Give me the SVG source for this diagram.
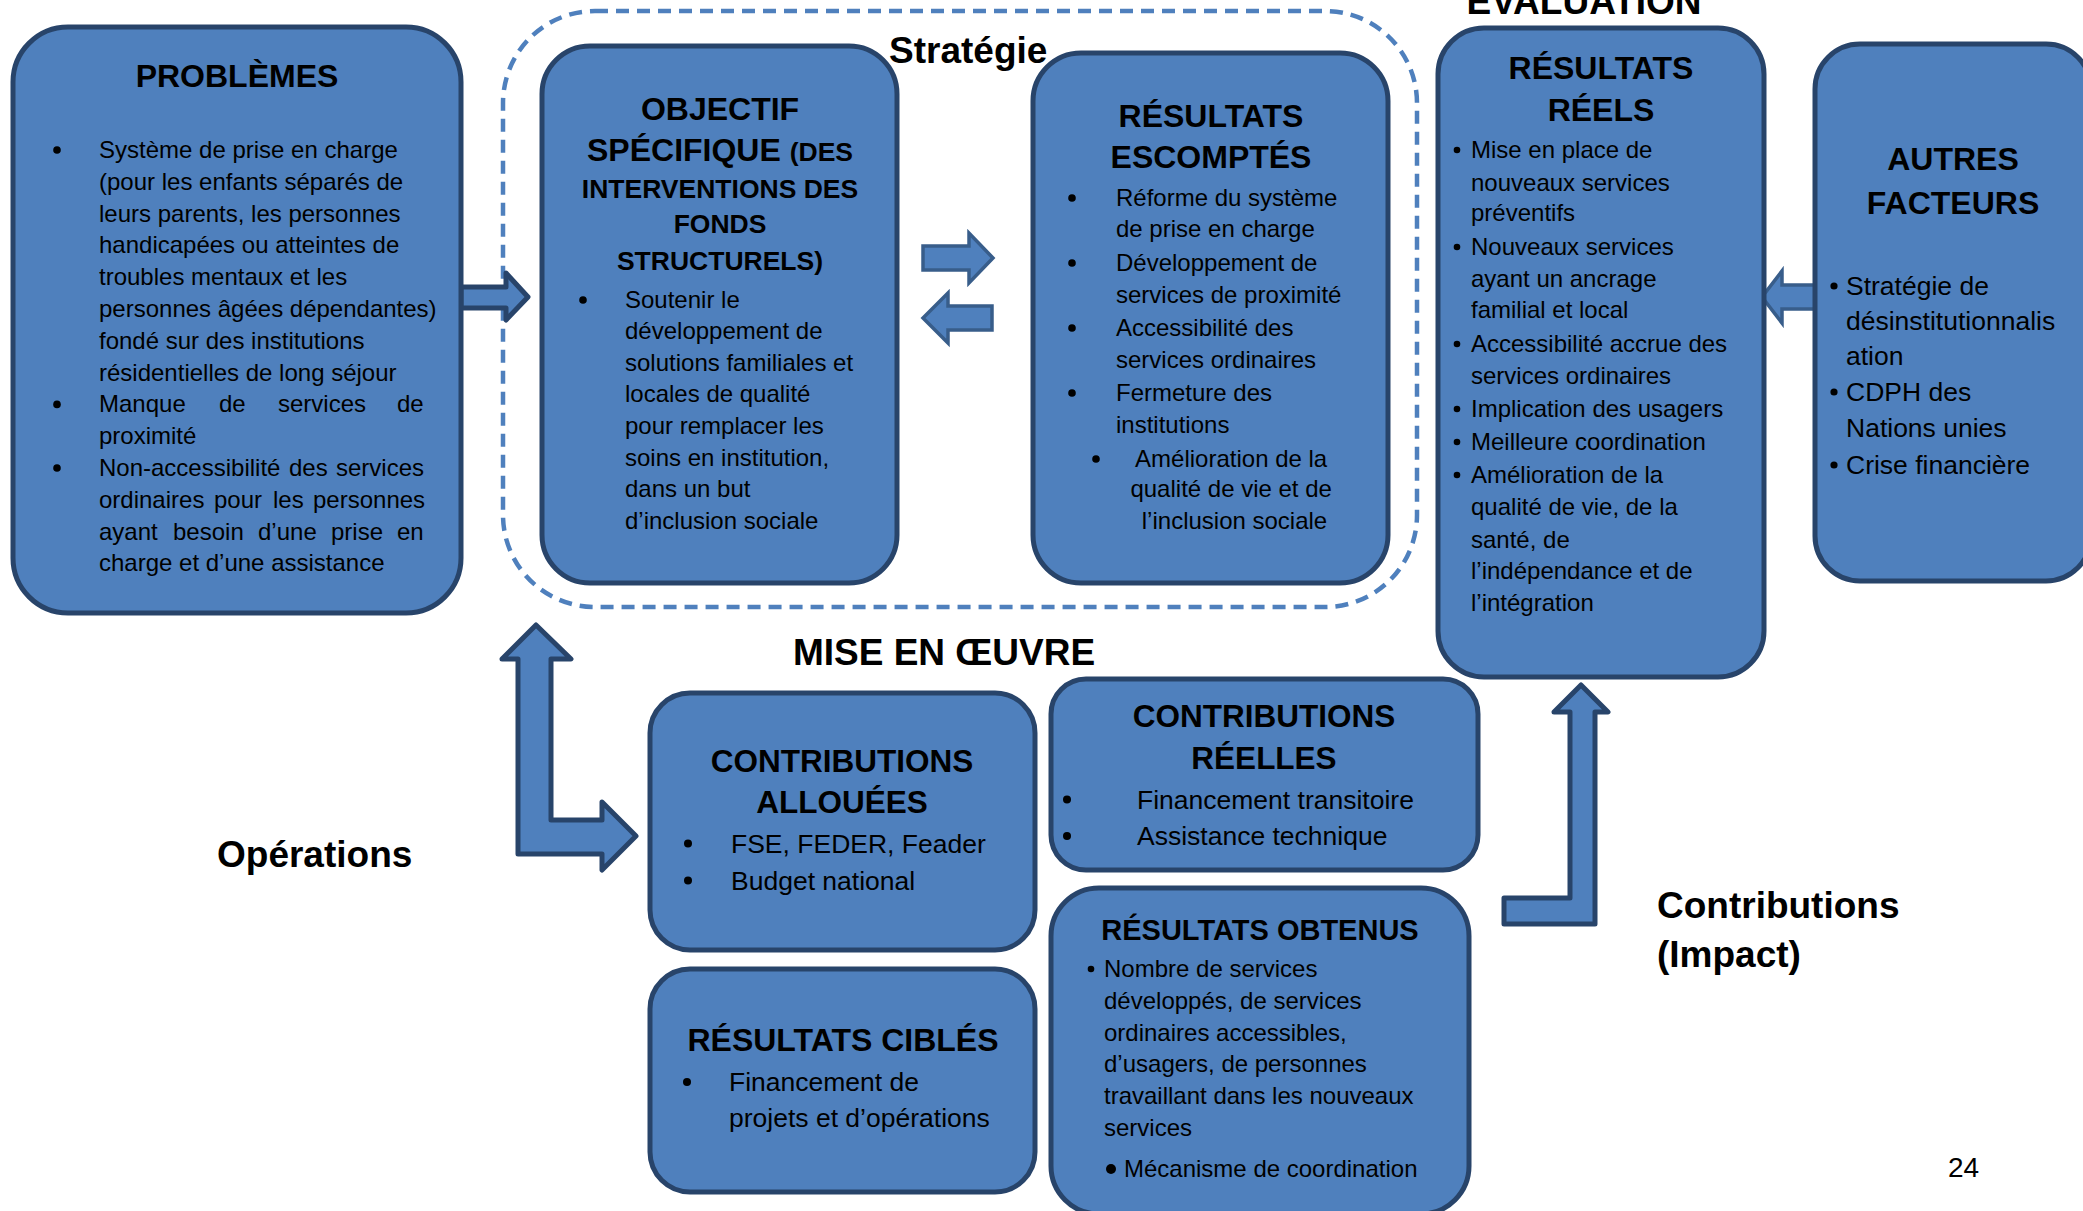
<svg xmlns="http://www.w3.org/2000/svg" width="2083" height="1211" viewBox="0 0 2083 1211">
<style>
.box{fill:#4f80bd;stroke:#28446a;stroke-width:5}
.arr{fill:#4f80bd;stroke:#385d8a;stroke-width:3.5;stroke-linejoin:miter}
.arrd{fill:#4f80bd;stroke:#28446a;stroke-width:5;stroke-linejoin:round}
.dash{fill:none;stroke:#4f80bd;stroke-width:4.5;stroke-dasharray:13 8}
text{font-family:"Liberation Sans",Arial,sans-serif;fill:#000}
.h{font-weight:bold;font-size:32px;text-anchor:middle}
.h26{font-weight:bold;font-size:26.5px;text-anchor:middle}
.h31{font-weight:bold;font-size:31.5px;text-anchor:middle}
.h29{font-weight:bold;font-size:29px;text-anchor:middle}
.sec{font-weight:bold;font-size:37px}
.b24{font-size:24px}
.b26{font-size:26.5px}
.dot{fill:#000}
</style>
<rect width="2083" height="1211" fill="#fff"/>

<g id="strategie-frame">
<rect class="dash" x="503" y="11" width="914" height="596" rx="92"/>
</g>

<g id="connectors">
<path class="arrd" d="M461,287 H506 V273 L528,297 L506,320 V308 H461 Z"/>
<path class="arr" d="M923,246 H969 V233 L993,258 L969,283 V270 H923 Z"/>
<path class="arr" d="M992,306 H948 V293 L923,318 L948,343 V330 H992 Z"/>
<path class="arr" d="M1817,285 H1782 V271 L1762,297 L1782,323 V309 H1817 Z"/>
<path class="arrd" d="M536,625 L571,659 L551,659 L551,820 L602,820 L602,802 L636,836 L602,870 L602,854 L518,854 L518,659 L502,659 Z"/>
<path class="arrd" d="M1581,685 L1608,712 L1595,712 L1595,924 L1504,924 L1504,898 L1570,898 L1570,712 L1554,712 Z"/>
</g>

<g id="problemes">
<rect class="box" x="13" y="27" width="448" height="586" rx="55"/>
<text class="h" x="237" y="87">PROBLÈMES</text>
<circle class="dot" cx="57" cy="150" r="3.8"/>
<circle class="dot" cx="57" cy="404.4" r="3.8"/>
<circle class="dot" cx="57" cy="468" r="3.8"/>
<text class="b24">
<tspan x="99" y="158">Système de prise en charge</tspan>
<tspan x="99" y="189.8">(pour les enfants séparés de</tspan>
<tspan x="99" y="221.6">leurs parents, les personnes</tspan>
<tspan x="99" y="253.4">handicapées ou atteintes de</tspan>
<tspan x="99" y="285.2">troubles mentaux et les</tspan>
<tspan x="99" y="317">personnes âgées dépendantes)</tspan>
<tspan x="99" y="348.8">fondé sur des institutions</tspan>
<tspan x="99" y="380.6">résidentielles de long séjour</tspan>
</text>
<text class="b24" y="412.4"><tspan x="99">Manque</tspan><tspan x="219">de</tspan><tspan x="278">services</tspan><tspan x="397">de</tspan></text>
<text class="b24" x="99" y="444.2">proximité</text>
<text class="b24" y="476"><tspan x="99">Non-accessibilité</tspan><tspan x="289">des</tspan><tspan x="336">services</tspan></text>
<text class="b24" y="507.8"><tspan x="99">ordinaires</tspan><tspan x="214">pour</tspan><tspan x="273">les</tspan><tspan x="313">personnes</tspan></text>
<text class="b24" y="539.6"><tspan x="99">ayant</tspan><tspan x="173">besoin</tspan><tspan x="258">d’une</tspan><tspan x="331">prise</tspan><tspan x="397">en</tspan></text>
<text class="b24" x="99" y="571.4">charge et d’une assistance</text>
</g>

<g id="objectif">
<rect class="box" x="542" y="46" width="355" height="537" rx="48"/>
<text class="h" x="720" y="120">OBJECTIF</text>
<text class="h" x="720" y="161">SPÉCIFIQUE <tspan font-size="26.5">(DES</tspan></text>
<text class="h26" x="720" y="198">INTERVENTIONS DES</text>
<text class="h26" x="720" y="233">FONDS</text>
<text class="h26" x="720" y="270">STRUCTURELS)</text>
<circle class="dot" cx="583" cy="300" r="3.8"/>
<text class="b24">
<tspan x="625" y="307.6">Soutenir le</tspan>
<tspan x="625" y="339.2">développement de</tspan>
<tspan x="625" y="370.8">solutions familiales et</tspan>
<tspan x="625" y="402.4">locales de qualité</tspan>
<tspan x="625" y="434">pour remplacer les</tspan>
<tspan x="625" y="465.6">soins en institution,</tspan>
<tspan x="625" y="497.2">dans un but</tspan>
<tspan x="625" y="528.8">d’inclusion sociale</tspan>
</text>
</g>

<g id="resultats-escomptes">
<rect class="box" x="1033" y="53" width="355" height="530" rx="48"/>
<text class="h" x="1211" y="127">RÉSULTATS</text>
<text class="h" x="1211" y="168">ESCOMPTÉS</text>
<circle class="dot" cx="1072" cy="198" r="3.8"/>
<circle class="dot" cx="1072" cy="263" r="3.8"/>
<circle class="dot" cx="1072" cy="328" r="3.8"/>
<circle class="dot" cx="1072" cy="393" r="3.8"/>
<circle class="dot" cx="1096" cy="459" r="3.8"/>
<text class="b24">
<tspan x="1116" y="205.6">Réforme du système</tspan>
<tspan x="1116" y="237">de prise en charge</tspan>
<tspan x="1116" y="271">Développement de</tspan>
<tspan x="1116" y="302.5">services de proximité</tspan>
<tspan x="1116" y="336">Accessibilité des</tspan>
<tspan x="1116" y="368">services ordinaires</tspan>
<tspan x="1116" y="401">Fermeture des</tspan>
<tspan x="1116" y="433">institutions</tspan>
</text>
<text class="b24" text-anchor="middle">
<tspan x="1234.5" y="466.6">Amélioration de la</tspan>
<tspan x="1234.5" y="497">qualité de vie et de</tspan>
<tspan x="1234.5" y="528.7">l’inclusion sociale</tspan>
</text>
</g>

<g id="labels">
<text class="sec" x="889" y="63">Stratégie</text>
<text class="sec" x="1584" y="14" text-anchor="middle">ÉVALUATION</text>
<text class="sec" x="944" y="665" text-anchor="middle">MISE EN ŒUVRE</text>
<text class="sec" x="217" y="867">Opérations</text>
<text class="sec" x="1657" y="918">Contributions</text>
<text class="sec" x="1657" y="967">(Impact)</text>
<text x="1948" y="1177" font-size="28">24</text>
</g>

<g id="resultats-reels">
<rect class="box" x="1438" y="28" width="326" height="649" rx="46"/>
<text class="h" x="1601" y="79">RÉSULTATS</text>
<text class="h" x="1601" y="121">RÉELS</text>
<circle class="dot" cx="1457" cy="150" r="3.3"/>
<circle class="dot" cx="1457" cy="247" r="3.3"/>
<circle class="dot" cx="1457" cy="344" r="3.3"/>
<circle class="dot" cx="1457" cy="409" r="3.3"/>
<circle class="dot" cx="1457" cy="442" r="3.3"/>
<circle class="dot" cx="1457" cy="475" r="3.3"/>
<text class="b24">
<tspan x="1471" y="158">Mise en place de</tspan>
<tspan x="1471" y="190.6">nouveaux services</tspan>
<tspan x="1471" y="221">préventifs</tspan>
<tspan x="1471" y="255">Nouveaux services</tspan>
<tspan x="1471" y="286.7">ayant un ancrage</tspan>
<tspan x="1471" y="318">familial et local</tspan>
<tspan x="1471" y="352">Accessibilité accrue des</tspan>
<tspan x="1471" y="383.6">services ordinaires</tspan>
<tspan x="1471" y="417">Implication des usagers</tspan>
<tspan x="1471" y="450">Meilleure coordination</tspan>
<tspan x="1471" y="483">Amélioration de la</tspan>
<tspan x="1471" y="515">qualité de vie, de la</tspan>
<tspan x="1471" y="547.6">santé, de</tspan>
<tspan x="1471" y="579">l’indépendance et de</tspan>
<tspan x="1471" y="611">l’intégration</tspan>
</text>
</g>

<g id="autres-facteurs">
<rect class="box" x="1815" y="44" width="276" height="537" rx="45"/>
<text class="h" x="1953" y="170">AUTRES</text>
<text class="h" x="1953" y="213.5">FACTEURS</text>
<circle class="dot" cx="1834" cy="286" r="3.6"/>
<circle class="dot" cx="1834" cy="392" r="3.6"/>
<circle class="dot" cx="1834" cy="465" r="3.6"/>
<text class="b26">
<tspan x="1846" y="294.6">Stratégie de</tspan>
<tspan x="1846" y="330">désinstitutionnalis</tspan>
<tspan x="1846" y="364.6">ation</tspan>
<tspan x="1846" y="401">CDPH des</tspan>
<tspan x="1846" y="437">Nations unies</tspan>
<tspan x="1846" y="473.7">Crise financière</tspan>
</text>
</g>

<g id="contributions-allouees">
<rect class="box" x="650" y="693" width="385" height="257" rx="40"/>
<text class="h31" x="842" y="772">CONTRIBUTIONS</text>
<text class="h31" x="842" y="813">ALLOUÉES</text>
<circle class="dot" cx="688" cy="843.6" r="4"/>
<circle class="dot" cx="688" cy="880.5" r="4"/>
<text class="b26">
<tspan x="731" y="852.6">FSE, FEDER, Feader</tspan>
<tspan x="731" y="889.5">Budget national</tspan>
</text>
</g>

<g id="resultats-cibles">
<rect class="box" x="650" y="969" width="385" height="223" rx="40"/>
<text class="h" x="843" y="1051">RÉSULTATS CIBLÉS</text>
<circle class="dot" cx="687" cy="1082" r="4"/>
<text class="b26">
<tspan x="729" y="1091">Financement de</tspan>
<tspan x="729" y="1127">projets et d’opérations</tspan>
</text>
</g>

<g id="contributions-reelles">
<rect class="box" x="1051" y="679" width="427" height="191" rx="35"/>
<text class="h31" x="1264" y="727">CONTRIBUTIONS</text>
<text class="h31" x="1264" y="769">RÉELLES</text>
<circle class="dot" cx="1067" cy="799.5" r="4"/>
<circle class="dot" cx="1067" cy="836" r="4"/>
<text class="b26">
<tspan x="1137" y="808.5">Financement transitoire</tspan>
<tspan x="1137" y="845">Assistance technique</tspan>
</text>
</g>

<g id="resultats-obtenus">
<rect class="box" x="1051" y="888" width="418" height="326" rx="48"/>
<text class="h29" x="1260" y="940">RÉSULTATS OBTENUS</text>
<circle class="dot" cx="1091" cy="969" r="3.3"/>
<circle class="dot" cx="1111" cy="1169" r="5"/>
<text class="b24">
<tspan x="1104" y="977">Nombre de services</tspan>
<tspan x="1104" y="1009">développés, de services</tspan>
<tspan x="1104" y="1041">ordinaires accessibles,</tspan>
<tspan x="1104" y="1072">d’usagers, de personnes</tspan>
<tspan x="1104" y="1104">travaillant dans les nouveaux</tspan>
<tspan x="1104" y="1135.6">services</tspan>
<tspan x="1124" y="1177">Mécanisme de coordination</tspan>
</text>
</g>
</svg>
